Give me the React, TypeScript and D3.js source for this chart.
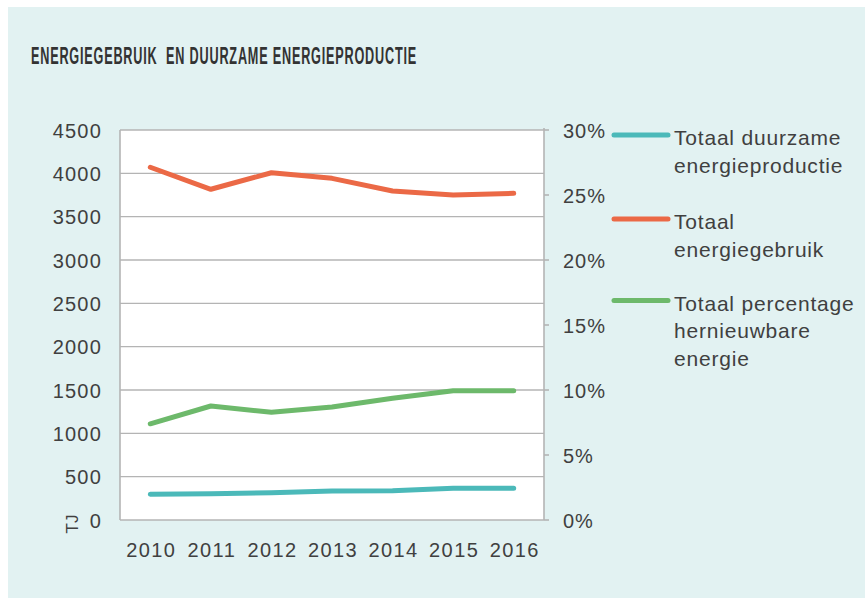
import React from "react";
import * as d3 from "d3";

const years = ["2010", "2011", "2012", "2013", "2014", "2015", "2016"];
const duurzameProductie = [297, 303, 315, 335, 338, 366, 366];
const energieGebruik = [4070, 3816, 4007, 3942, 3796, 3750, 3769];
const percentageHernieuwbaar = [0.074, 0.0877, 0.0828, 0.087, 0.0936, 0.0995, 0.0995];
const leftTicks = [0, 500, 1000, 1500, 2000, 2500, 3000, 3500, 4000, 4500];
const rightTicks = [0, 0.05, 0.1, 0.15, 0.2, 0.25, 0.3];
const legendItems = [
  { lines: ["Totaal duurzame", "energieproductie"], color: "#4bb9b9" },
  { lines: ["Totaal", "energiegebruik"], color: "#eb6946" },
  { lines: ["Totaal percentage", "hernieuwbare", "energie"], color: "#6db96b" },
];
const title = "ENERGIEGEBRUIK  EN DUURZAME ENERGIEPRODUCTIE";

const W = 865;
const H = 598;
const plot = { left: 120, right: 544, top: 130, bottom: 520 };
const textColor = "#404040";
const gridColor = "#b4b4b4";
const font = "'Liberation Sans', Arial, sans-serif";

export default function App() {
  const x = d3
    .scaleBand<string>()
    .domain(years)
    .range([plot.left, plot.right])
    .paddingInner(0)
    .paddingOuter(0);
  const cx = (y: string) => (x(y) as number) + x.bandwidth() / 2;
  const yL = d3.scaleLinear().domain([0, 4500]).range([plot.bottom, plot.top]);
  const yR = d3.scaleLinear().domain([0, 0.3]).range([plot.bottom, plot.top]);

  const lineL = d3
    .line<number>()
    .x((_, i) => cx(years[i]))
    .y((d) => yL(d));
  const lineR = d3
    .line<number>()
    .x((_, i) => cx(years[i]))
    .y((d) => yR(d));

  const pctFmt = d3.format(".0%");

  return (
    <svg
      width={W}
      height={H}
      style={{ position: "absolute", left: 0, top: 0 }}
      fontFamily={font}
    >
      <rect x={0} y={0} width={W} height={H} fill="#ffffff" />
      <rect x={8} y={7} width={W - 8} height={H - 7} fill="#e2f2f2" />
      <text
        x={31}
        y={63.5}
        fontFamily="'Liberation Sans Narrow', 'Liberation Sans', Arial, sans-serif"
        fontWeight="bold"
        fontSize={24}
        letterSpacing={1.5}
        fill="#333333"
        textLength={386}
        lengthAdjust="spacingAndGlyphs"
        style={{ whiteSpace: "pre" }}
      >
        {title}
      </text>

      <rect
        x={plot.left}
        y={plot.top}
        width={plot.right - plot.left}
        height={plot.bottom - plot.top}
        fill="#ffffff"
      />
      {leftTicks.map((t) => (
        <line
          key={"g" + t}
          x1={plot.left}
          x2={plot.right}
          y1={yL(t)}
          y2={yL(t)}
          stroke={gridColor}
          strokeWidth={1.4}
        />
      ))}
      <line x1={plot.left} x2={plot.left} y1={plot.top} y2={plot.bottom} stroke={gridColor} strokeWidth={1.6} />
      <line x1={plot.right} x2={plot.right} y1={plot.top - 2} y2={plot.bottom} stroke={gridColor} strokeWidth={1.6} />
      {rightTicks.map((t) => (
        <line
          key={"rt" + t}
          x1={plot.right}
          x2={plot.right + 5}
          y1={yR(t)}
          y2={yR(t)}
          stroke={gridColor}
          strokeWidth={1.6}
        />
      ))}

      {leftTicks.map((t) => (
        <text
          key={"lt" + t}
          x={102}
          y={yL(t) + 7.5}
          textAnchor="end"
          fontSize={20}
          letterSpacing={1.2}
          fill={textColor}
        >
          {String(t)}
        </text>
      ))}
      {rightTicks.map((t) => (
        <text
          key={"rl" + t}
          x={563}
          y={yR(t) + 7.5}
          fontSize={20}
          letterSpacing={1}
          fill={textColor}
        >
          {pctFmt(t)}
        </text>
      ))}
      {years.map((y) => (
        <text
          key={"x" + y}
          x={cx(y) + 1}
          y={557}
          textAnchor="middle"
          fontSize={20}
          letterSpacing={1.4}
          fill={textColor}
        >
          {y}
        </text>
      ))}
      <text
        transform="translate(78,524) rotate(-90)"
        textAnchor="middle"
        fontSize={17}
        fill={textColor}
      >
        TJ
      </text>

      <path d={lineL(energieGebruik) || ""} fill="none" stroke={legendItems[1].color} strokeWidth={5} strokeLinecap="round" strokeLinejoin="round" />
      <path d={lineR(percentageHernieuwbaar) || ""} fill="none" stroke={legendItems[2].color} strokeWidth={5} strokeLinecap="round" strokeLinejoin="round" />
      <path d={lineL(duurzameProductie) || ""} fill="none" stroke={legendItems[0].color} strokeWidth={5} strokeLinecap="round" strokeLinejoin="round" />

      {legendItems.map((item, i) => {
        const ly = [135, 219, 300.5][i];
        return (
          <g key={"lg" + i}>
            <line x1={614} x2={668} y1={ly} y2={ly} stroke={item.color} strokeWidth={5} strokeLinecap="round" />
            {item.lines.map((l, j) => (
              <text
                key={j}
                x={674}
                y={ly + 10 + j * 27.5}
                fontSize={21}
                letterSpacing={0.8}
                fill={textColor}
              >
                {l}
              </text>
            ))}
          </g>
        );
      })}
    </svg>
  );
}
